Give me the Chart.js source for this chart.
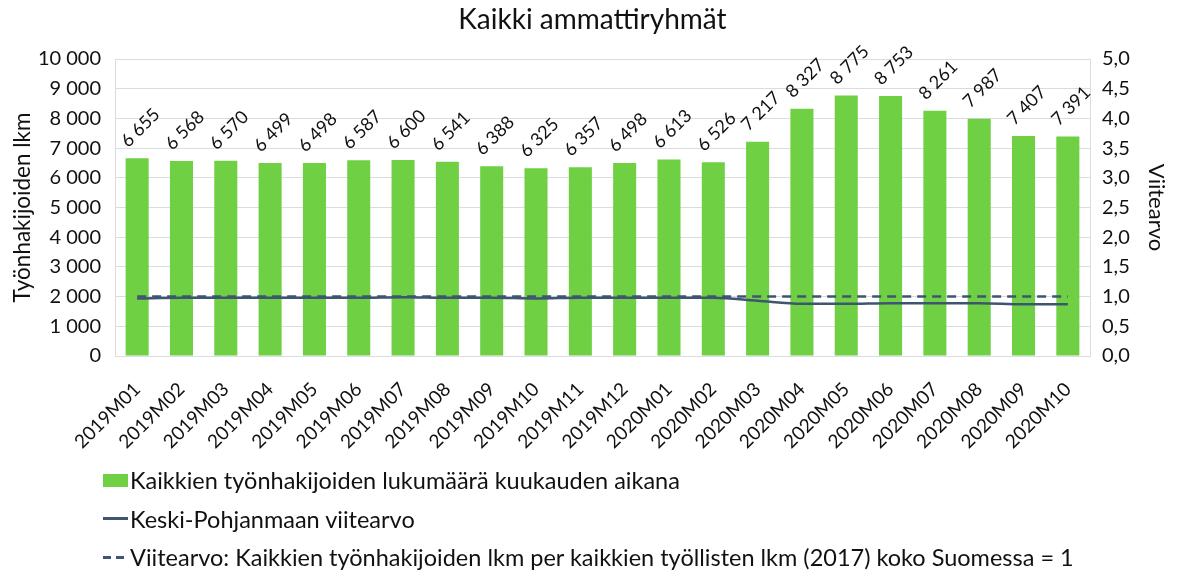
<!doctype html>
<html>
<head>
	<title>Kaikki ammattiryhmät</title>
	<script src="https://cdn.jsdelivr.net/npm/chart.js@4/dist/chart.umd.min.js"></script>
	<style>
		body { margin: 0; background: #fff; font-family: Lato, sans-serif; }
		#wrap { position: relative; width: 1185px; height: 570px; }
		#legend { position: absolute; left: 103px; top: 461px; font-size: 23.5px; color: #111; }
		.row { height: 38.5px; display: flex; align-items: center; }
		.sym { width: 25px; height: 13px; margin-right: 2px; position: relative; }
	</style>
</head>
<body>
	<div id="wrap">
		<canvas id="canvas" width="1185" height="470"></canvas>
		<div id="legend"></div>
	</div>
	<script>
		var months = ['2019M01', '2019M02', '2019M03', '2019M04', '2019M05', '2019M06', '2019M07', '2019M08', '2019M09', '2019M10', '2019M11', '2019M12',
			'2020M01', '2020M02', '2020M03', '2020M04', '2020M05', '2020M06', '2020M07', '2020M08', '2020M09', '2020M10'];
		var jobSeekers = [6655, 6568, 6570, 6499, 6498, 6587, 6600, 6541, 6388, 6325, 6357, 6498,
			6613, 6526, 7217, 8327, 8775, 8753, 8261, 7987, 7407, 7391];
		var regionIndex = [0.97, 0.98, 0.98, 0.98, 0.98, 0.98, 0.99, 0.98, 0.98, 0.97, 0.98, 0.98,
			0.98, 0.98, 0.93, 0.88, 0.88, 0.89, 0.89, 0.89, 0.87, 0.87];
		var nationalIndex = [1, 1, 1, 1, 1, 1, 1, 1, 1, 1, 1, 1, 1, 1, 1, 1, 1, 1, 1, 1, 1, 1];

		var green = '#6fd044';
		var navy = '#3e5572';
		var gridColor = '#d9dde3';
		var canvasH = 470;

		function fmtThousands(v) {
			return String(Math.round(v)).replace(/\B(?=(\d{3})+(?!\d))/g, ' ');
		}

		// rotated value labels above the bars
		var barLabels = {
			id: 'barLabels',
			afterDatasetsDraw: function(chart) {
				var ctx = chart.ctx;
				var meta = chart.getDatasetMeta(0);
				ctx.save();
				ctx.font = '18px Lato, sans-serif';
				ctx.fillStyle = '#111';
				ctx.textAlign = 'left';
				ctx.textBaseline = 'alphabetic';
				meta.data.forEach(function(bar, i) {
					ctx.save();
					ctx.translate(bar.x - 9, bar.y - 10);
					ctx.rotate(-Math.PI / 4);
					ctx.fillText(fmtThousands(jobSeekers[i]), 0, 0);
					ctx.restore();
				});
				ctx.restore();
			}
		};

		var config = {
			type: 'bar',
			data: {
				labels: months,
				datasets: [{
					label: 'Kaikkien työnhakijoiden lukumäärä kuukauden aikana',
					data: jobSeekers,
					backgroundColor: green,
					barPercentage: 0.52,
					categoryPercentage: 1,
					yAxisID: 'y',
					order: 2
				}, {
					type: 'line',
					label: 'Keski-Pohjanmaan viitearvo',
					data: regionIndex,
					borderColor: navy,
					borderWidth: 2.5,
					pointRadius: 0,
					cubicInterpolationMode: 'monotone',
					yAxisID: 'y1',
					order: 1
				}, {
					type: 'line',
					label: 'Viitearvo: Kaikkien työnhakijoiden lkm per kaikkien työllisten lkm (2017) koko Suomessa = 1',
					data: nationalIndex,
					borderColor: navy,
					borderWidth: 2.5,
					borderDash: [9, 6],
					pointRadius: 0,
					yAxisID: 'y1',
					order: 0
				}]
			},
			options: {
				responsive: false,
				animation: false,
				layout: { padding: 0 },
				plugins: {
					legend: { display: false },
					tooltip: { enabled: false },
					title: {
						display: true,
						text: 'Kaikki ammattiryhmät',
						color: '#111',
						font: { family: 'Lato, sans-serif', size: 28, weight: 'normal' },
						padding: { top: 3, bottom: 22.4 }
					}
				},
				scales: {
					x: {
						grid: { display: false },
						border: { display: true, color: gridColor },
						ticks: {
							color: '#111',
							font: { family: 'Lato, sans-serif', size: 19 },
							maxRotation: 45,
							minRotation: 45,
							autoSkip: false,
							padding: 14
						},
						afterFit: function(scale) { scale.height = canvasH - 356; }
					},
					y: {
						position: 'left',
						min: 0,
						max: 10000,
						grid: { color: gridColor, drawTicks: false },
						border: { color: gridColor },
						ticks: {
							stepSize: 1000,
							color: '#111',
							padding: 14,
							font: { family: 'Lato, sans-serif', size: 20 },
							callback: function(v) { return fmtThousands(v); }
						},
						title: {
							display: true,
							text: 'Työnhakijoiden lkm',
							color: '#111',
							font: { family: 'Lato, sans-serif', size: 22.5 },
							padding: { top: 9, bottom: 0 }
						},
						afterFit: function(scale) { scale.width = 115; }
					},
					y1: {
						position: 'right',
						min: 0,
						max: 5,
						grid: { display: false, drawTicks: false },
						border: { color: gridColor },
						ticks: {
							stepSize: 0.5,
							color: '#111',
							padding: 12,
							font: { family: 'Lato, sans-serif', size: 20 },
							callback: function(v) { return v.toFixed(1).replace('.', ','); }
						},
						title: {
							display: true,
							text: 'Viitearvo',
							color: '#111',
							font: { family: 'Lato, sans-serif', size: 22 },
							padding: { top: 16, bottom: 0 }
						},
						afterFit: function(scale) { scale.width = 95; }
					}
				}
			},
			plugins: [barLabels]
		};

		var chart = new Chart(document.getElementById('canvas'), config);

		// legend below the chart, one item per row
		var legend = document.getElementById('legend');
		chart.data.datasets.forEach(function(ds, i) {
			var row = document.createElement('div');
			row.className = 'row';
			var sym = document.createElement('span');
			sym.className = 'sym';
			if (i === 0) {
				sym.style.background = ds.backgroundColor;
			} else {
				var ln = document.createElement('span');
				ln.style.position = 'absolute';
				ln.style.left = '0';
				ln.style.right = '0';
				ln.style.top = '5px';
				ln.style.height = '3px';
				if (ds.borderDash) {
					ln.style.background = 'repeating-linear-gradient(to right, ' + ds.borderColor + ' 0 8px, transparent 8px 13px)';
				} else {
					ln.style.background = ds.borderColor;
				}
				sym.appendChild(ln);
			}
			row.appendChild(sym);
			var txt = document.createElement('span');
			txt.textContent = ds.label;
			row.appendChild(txt);
			legend.appendChild(row);
		});
	</script>
</body>
</html>
